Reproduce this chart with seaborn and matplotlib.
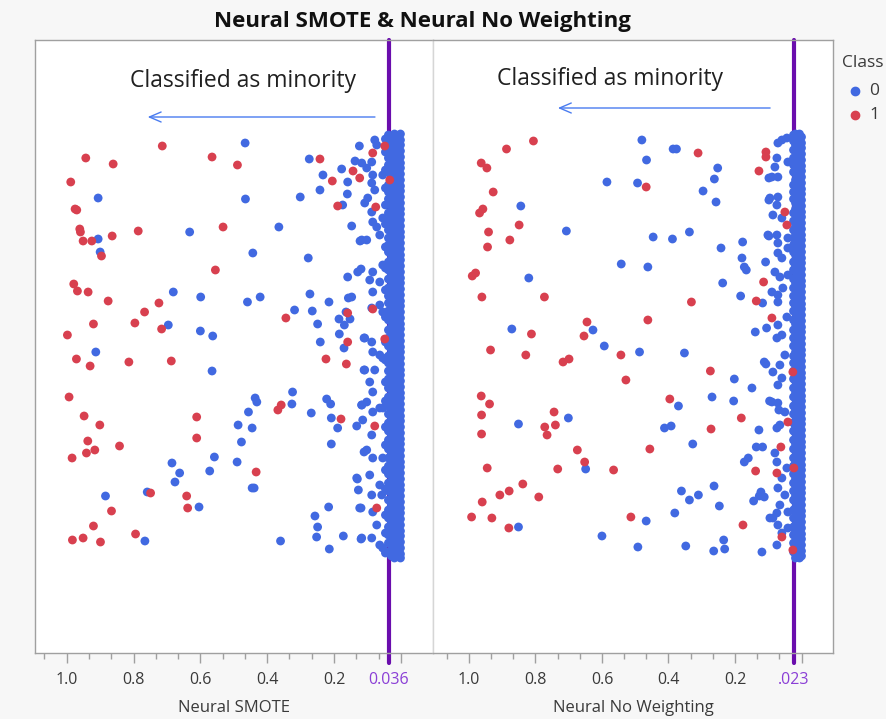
import matplotlib
matplotlib.use("Agg")
import pandas as pd
import matplotlib.pyplot as plt
import seaborn as sns
from matplotlib.lines import Line2D
from matplotlib.ticker import FixedLocator

# ---------------- data ----------------
# Neural SMOTE: predicted probability of the minority class, with row jitter
smote_blue_x = [0.466, 0.906, 0.465, 0.274, 0.233, 0.242, 0.301, 0.365, 0.632, 0.906, 0.900, 0.443, 0.277,
                0.124, 0.177, 0.159, 0.160, 0.174, 0.137, 0.117, 0.147, 0.122, 0.159, 0.129, 0.119, 0.681,
                0.599, 0.459, 0.421, 0.272, 0.318, 0.265, 0.215, 0.249, 0.696, 0.600, 0.563, 0.157, 0.147,
                0.164, 0.185, 0.152, 0.169, 0.184, 0.241, 0.110, 0.170,
                0.913, 0.565, 0.436, 0.431, 0.456, 0.487, 0.445, 0.477, 0.558, 0.572, 0.490, 0.685, 0.662,
                0.676, 0.759, 0.884, 0.604, 0.445, 0.439, 0.766, 0.324, 0.326, 0.268, 0.222, 0.210, 0.208,
                0.189, 0.208, 0.117, 0.132, 0.110, 0.130, 0.127, 0.119, 0.216, 0.257, 0.249, 0.252, 0.172,
                0.214, 0.360, 0.119, 0.110,
                0.078, 0.072, 0.087, 0.102, 0.084, 0.087, 0.078, 0.099, 0.108, 0.087, 0.084, 0.072, 0.117,
                0.102, 0.063, 0.084, 0.093, 0.063, 0.084, 0.063, 0.087, 0.108, 0.087, 0.084, 0.063, 0.078,
                0.108, 0.093, 0.084, 0.117, 0.102, 0.084, 0.063, 0.114, 0.087, 0.102, 0.084, 0.093, 0.063,
                0.132, 0.123, 0.087, 0.084, 0.072, 0.087, 0.063, 0.054, 0.117, 0.057, 0.054, 0.054, 0.054,
                0.054, 0.054, 0.054, 0.054]
smote_blue_y = [143, 198, 199, 159, 175, 190, 197, 227, 232, 239, 252, 253, 258,
                146, 169, 182, 194, 205, 161, 163, 226, 241, 277, 272, 269, 292,
                297, 302, 297, 294, 310, 311, 302, 324, 325, 331, 336, 298, 297,
                312, 319, 319, 325, 334, 342, 338, 348,
                352, 371, 398, 402, 412, 425, 428, 442, 457, 471, 462, 463, 473,
                482, 492, 496, 507, 488, 488, 541, 392, 404, 413, 399, 404, 418,
                428, 444, 405, 426, 452, 479, 490, 508, 507, 516, 527, 537, 536,
                549, 541, 539, 370,
                140, 145, 162, 168, 175, 183, 190, 198, 203, 212, 222, 227, 240,
                240, 235, 272, 280, 282, 292, 305, 308, 338, 342, 352, 355, 370,
                370, 382, 392, 405, 402, 412, 408, 420, 435, 450, 458, 475, 485,
                478, 508, 495, 512, 525, 538, 545, 548, 538, 495, 458, 408, 358,
                312, 265, 218, 175]
smote_red_x = [0.714, 0.943, 0.861, 0.565, 0.489, 0.988, 0.242, 0.975, 0.970, 0.961, 0.959, 0.951, 0.925,
               0.864, 0.786, 0.532, 0.896, 0.555, 0.979, 0.968, 0.936, 0.876, 0.724, 0.767, 0.796, 0.920,
               0.716, 0.998, 0.344, 0.143, 0.123, 0.205, 0.189, 0.159, 0.159,
               0.971, 0.930, 0.814, 0.687, 0.993, 0.948, 0.901, 0.937, 0.941, 0.916, 0.842, 0.984, 0.611,
               0.611, 0.358, 0.368, 0.433, 0.749, 0.641, 0.638, 0.866, 0.920, 0.794, 0.983, 0.951, 0.899,
               0.224, 0.163, 0.179,
               0.084, 0.048, 0.075, 0.084, 0.048, 0.078, 0.072, 0.033]
smote_red_y = [146, 158, 164, 157, 165, 182, 159, 209, 210, 229, 232, 241, 241,
               236, 231, 227, 256, 270, 284, 291, 292, 301, 303, 312, 323, 324,
               329, 335, 318, 171, 178, 181, 206, 313, 342,
               359, 366, 362, 361, 397, 416, 425, 441, 453, 450, 446, 458, 417,
               438, 405, 410, 472, 493, 496, 508, 511, 526, 534, 540, 538, 542,
               359, 364, 419,
               153, 146, 207, 309, 339, 426, 508, 180]

# jitter rows of the near-zero scores (class 0)
rows_a = [134, 140, 145, 151, 157, 163, 168, 174, 180, 186, 191, 197, 203, 209, 214, 220, 226, 232, 237,
          243, 249, 255, 260, 266, 272, 278, 283, 289, 295, 301, 306, 312, 318, 324, 329, 335, 341, 347,
          352, 358, 364, 370, 375, 381, 387, 393, 398, 404, 410, 416, 421, 427, 433, 439, 444, 450, 456,
          462, 467, 473, 479, 485, 490, 496, 502, 508, 513, 519, 525, 531, 536, 542, 548, 554, 558]
rows_b = [137, 143, 148, 154, 160, 166, 171, 177, 183, 189, 194, 200, 206, 212, 217, 223, 229, 235, 240,
          246, 252, 258, 263, 269, 275, 281, 286, 292, 298, 304, 309, 315, 321, 327, 332, 338, 344, 350,
          355, 361, 367, 373, 378, 384, 390, 396, 401, 407, 413, 419, 424, 430, 436, 442, 447, 453, 459,
          465, 470, 476, 482, 488, 493, 499, 505, 511, 516, 522, 528, 534, 539, 545, 551, 556]
rows_c = [135, 141, 150, 158, 165, 172, 185, 192, 199, 213, 221, 230, 238, 245, 252, 262, 270, 279, 288,
          296, 303, 311, 320, 330, 338, 346, 356, 363, 371, 379, 388, 397, 406, 414, 423, 431, 440, 449,
          458, 466, 474, 483, 491, 500, 510, 518, 527, 535, 543, 552]
rows_d = [139, 152, 170, 188, 205, 224, 247, 268, 290, 317, 342, 360, 382, 401, 427, 445, 470, 489,
          515, 533, 553]

smote_band = {0.001: rows_a, 0.010: rows_b, 0.019: rows_a, 0.028: rows_b, 0.037: rows_c, 0.046: rows_d}
noweight_band = {0.000: rows_b, 0.006: rows_a, 0.012: rows_b, 0.018: rows_a, 0.024: rows_c}

# Neural No Weighting
noweight_blue_x = [0.480, 0.466, 0.386, 0.376, 0.585, 0.493, 0.252, 0.262, 0.296, 0.257, 0.844, 0.707, 0.446,
                   0.388, 0.337, 0.242, 0.177, 0.179, 0.172, 0.166, 0.108, 0.542, 0.462, 0.820, 0.237, 0.183,
                   0.117, 0.871, 0.627, 0.593, 0.139, 0.105, 0.098, 0.098, 0.098,
                   0.487, 0.352, 0.112, 0.107, 0.202, 0.149, 0.269, 0.204, 0.370, 0.096, 0.851, 0.701, 0.412,
                   0.392, 0.327, 0.128, 0.136, 0.117, 0.172, 0.160, 0.649, 0.361, 0.337, 0.310, 0.263, 0.247,
                   0.144, 0.122, 0.112, 0.127, 0.381, 0.467, 0.851, 0.600, 0.492, 0.348, 0.264, 0.231, 0.234,
                   0.119, 0.095,
                   0.059, 0.044, 0.071, 0.074, 0.080, 0.089, 0.071, 0.041, 0.095, 0.071, 0.074, 0.086, 0.059,
                   0.074, 0.101, 0.071, 0.041, 0.071, 0.059, 0.041, 0.080, 0.065, 0.041, 0.089, 0.071, 0.056,
                   0.071, 0.044, 0.071, 0.074, 0.059, 0.050, 0.065, 0.086, 0.059, 0.071, 0.089, 0.071, 0.068,
                   0.050, 0.074, 0.065, 0.080, 0.074, 0.044, 0.059, 0.071, 0.050, 0.065, 0.074, 0.041, 0.086,
                   0.071, 0.059, 0.074, 0.041]
noweight_blue_y = [140, 160, 149, 149, 182, 183, 168, 179, 191, 202, 206, 231, 237,
                   239, 232, 248, 242, 258, 267, 270, 262, 264, 267, 278, 283, 296,
                   303, 329, 330, 346, 332, 328, 178, 200, 236,
                   352, 353, 362, 364, 379, 388, 397, 401, 406, 401, 424, 418, 428,
                   426, 444, 430, 447, 447, 462, 458, 469, 491, 500, 495, 486, 506,
                   501, 492, 497, 496, 513, 521, 527, 536, 547, 546, 551, 549, 540,
                   552, 518,
                   140, 138, 143, 158, 167, 177, 177, 162, 198, 197, 205, 215, 218,
                   235, 235, 243, 238, 253, 258, 248, 272, 277, 275, 292, 295, 288,
                   302, 317, 325, 338, 335, 355, 365, 372, 378, 385, 402, 403, 410,
                   412, 428, 425, 453, 462, 468, 478, 488, 495, 505, 513, 512, 518,
                   525, 533, 545, 528]
noweight_red_x = [0.806, 0.887, 0.963, 0.946, 0.927, 0.968, 0.958, 0.941, 0.849, 0.877, 0.944, 0.990, 0.980,
                  0.961, 0.773, 0.467, 0.311, 0.645, 0.654, 0.812, 0.462, 0.331, 0.107, 0.107, 0.128, 0.114,
                  0.136,
                  0.935, 0.829, 0.717, 0.699, 0.543, 0.528, 0.274, 0.963, 0.938, 0.962, 0.962, 0.744, 0.772,
                  0.740, 0.765, 0.396, 0.181, 0.272, 0.674, 0.456, 0.652, 0.945, 0.733, 0.565, 0.138, 0.838,
                  0.879, 0.907, 0.790, 0.960, 0.992, 0.931, 0.880, 0.513, 0.176,
                  0.026, 0.023, 0.026, 0.050, 0.044, 0.089, 0.041, 0.062, 0.074, 0.059]
noweight_red_y = [141, 149, 163, 168, 192, 213, 209, 232, 225, 240, 247, 276, 273,
                  297, 297, 187, 153, 322, 336, 334, 320, 302, 152, 157, 171, 282,
                  301,
                  350, 355, 362, 359, 355, 380, 371, 396, 404, 415, 434, 412, 427,
                  425, 435, 399, 418, 429, 450, 449, 462, 468, 469, 470, 471, 484,
                  491, 495, 497, 502, 517, 518, 528, 517, 525,
                  372, 468, 550, 212, 225, 318, 422, 447, 473, 537]

thresholds = {"Neural SMOTE": 0.036, "Neural No Weighting": 0.023}
threshold_labels = {"Neural SMOTE": "0.036", "Neural No Weighting": ".023"}
major_ticks = [1.0, 0.8, 0.6, 0.4, 0.2]
major_labels = ["1.0", "0.8", "0.6", "0.4", "0.2"]
class_levels = ["0", "1"]


def build_frame(blue_x, blue_y, red_x, red_y, band):
    rows = []
    for x, y in zip(blue_x, blue_y):
        rows.append((x, y, 0))
    for x, ys in band.items():
        for y in ys:
            rows.append((x, y, 0))
    for x, y in zip(red_x, red_y):
        rows.append((x, y, 1))
    return pd.DataFrame(rows, columns=["score", "jitter", "Class"])


frames = {
    "Neural SMOTE": build_frame(smote_blue_x, smote_blue_y, smote_red_x, smote_red_y, smote_band),
    "Neural No Weighting": build_frame(noweight_blue_x, noweight_blue_y, noweight_red_x, noweight_red_y,
                                       noweight_band),
}

# ---------------- style ----------------
sns.set_theme(style="white")
plt.rcParams["font.family"] = ["Open Sans", "DejaVu Sans"]

BLUE = "#4169e1"
RED = "#d8404f"
PURPLE = "#6a0dad"
PURPLE_TEXT = "#8b3fd6"
ARROW = "#4a7cf0"
FRAME = "#a0a0a0"
DIVIDER = "#d6d6d6"
TEXT = "#3a3a3a"

fig = plt.figure(figsize=(8.86, 7.19), dpi=100, facecolor="#f7f7f7")
W, H = 886, 719
bottom = 1 - 653 / H
height = 613 / H
ax_left = fig.add_axes([35 / W, bottom, 398 / W, height])
ax_right = fig.add_axes([433 / W, bottom, 400 / W, height])

panels = [
    (ax_left, "Neural SMOTE", (1.095, -0.0964), (0.473, 79), (0.069, 0.766, 117)),
    (ax_right, "Neural No Weighting", (1.108, -0.0947), (0.575, 77), (0.086, 0.741, 108)),
]

minor = [k * 0.2 / 3 for k in range(1, 17) if k % 3 != 0]

for ax, name, xlim, text_pos, arrow in panels:
    ax.set_facecolor("white")
    thr = thresholds[name]
    # cutoff line sits underneath the points
    ax.axvline(thr, ymin=-0.016, ymax=1, color=PURPLE, lw=3, clip_on=False, zorder=1.5)

    data = frames[name]
    sns.scatterplot(data=data, x="score", y="jitter", hue="Class", hue_order=[0, 1],
                    palette={0: BLUE, 1: RED}, s=40, linewidth=0,
                    legend=False, ax=ax)
    for coll in ax.collections:
        coll.set_zorder(3)

    ax.set_xlim(*xlim)
    ax.set_ylim(653, 40)
    ax.set_yticks([])
    ax.set_ylabel("")
    ticks = major_ticks + [thr, 0.0]
    labels = major_labels + [threshold_labels[name], ""]
    ax.set_xticks(ticks)
    ax.set_xticklabels(labels)
    ax.xaxis.set_minor_locator(FixedLocator(minor))
    ax.tick_params(axis="x", which="major", length=7, width=1, color=FRAME,
                   labelsize=11.5, labelcolor=TEXT, pad=7, bottom=True)
    ax.tick_params(axis="x", which="minor", length=4, width=1, color=FRAME, bottom=True)
    ax.get_xticklabels()[5].set_color(PURPLE_TEXT)
    ax.set_xlabel(name, fontsize=12, color=TEXT, labelpad=8)

    for side in ["top", "bottom", "left", "right"]:
        ax.spines[side].set_visible(True)
        ax.spines[side].set_color(FRAME)
        ax.spines[side].set_linewidth(1)

    ax.text(text_pos[0], text_pos[1] + 2, "Classified as minority", fontsize=16.5, color="#202020",
            ha="center", va="center")
    ax.annotate("", xy=(arrow[1], arrow[2]), xytext=(arrow[0], arrow[2]),
                arrowprops=dict(arrowstyle="->,head_length=0.7,head_width=0.3",
                                color=ARROW, lw=1), zorder=4)

ax_left.spines["right"].set_color(DIVIDER)
ax_right.spines["left"].set_color(DIVIDER)

fig.text(422 / W, 1 - 21 / H, "Neural SMOTE & Neural No Weighting", ha="center", va="center",
         fontsize=16, fontweight="bold", color="#111111")

# class key at the right of the panels
fig.text(842 / W, 1 - 63 / H, "Class", ha="left", va="center", fontsize=12.5, color=TEXT)
for level, colour, ypix in zip(class_levels, [BLUE, RED], [91, 115]):
    fig.add_artist(Line2D([855 / W], [1 - ypix / H], transform=fig.transFigure, marker="o",
                          ls="", color=colour, markersize=6))
    fig.text(869 / W, 1 - ypix / H, level, ha="left", va="center", fontsize=12.5, color=TEXT)

fig.savefig("out.png", dpi=100, facecolor=fig.get_facecolor())
